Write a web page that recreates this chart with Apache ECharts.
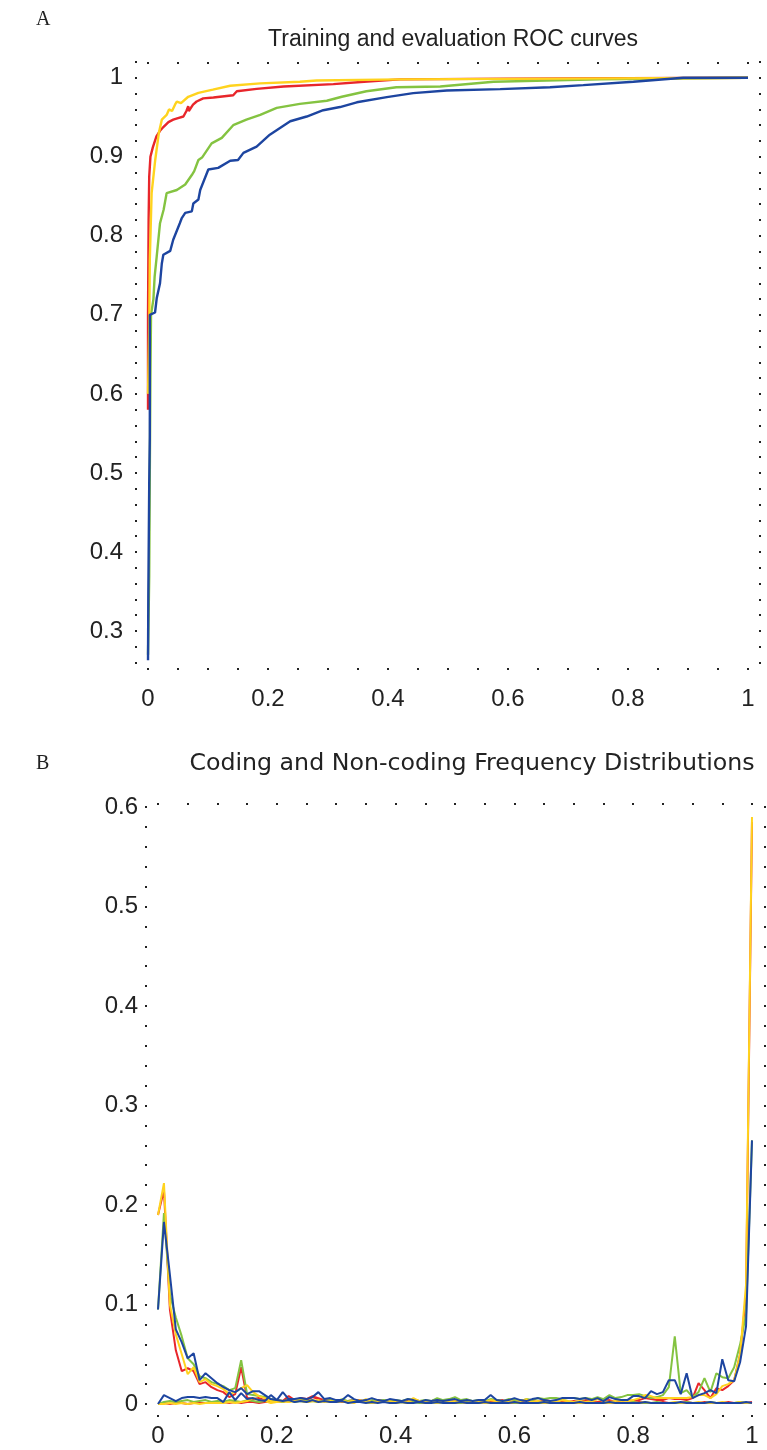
<!DOCTYPE html>
<html>
<head>
<meta charset="utf-8">
<title>ROC curves and frequency distributions</title>
<script src="https://cdn.jsdelivr.net/npm/echarts@6.0.0/dist/echarts.min.js"></script>
<style>
  html, body { margin: 0; padding: 0; background: #fff; }
  #chart { width: 767px; height: 1450px; }
</style>
</head>
<body>
<div id="chart"></div>
<script>
// panel A : ROC curves, [false positive rate, true positive rate]
const rocRed = [[0, 0.58], [0, 0.70], [0.001, 0.82], [0.002, 0.875], [0.004, 0.90], [0.008, 0.912], [0.014, 0.926],
  [0.02, 0.933], [0.026, 0.938], [0.034, 0.944], [0.042, 0.947], [0.05, 0.949], [0.059, 0.951], [0.064, 0.958],
  [0.067, 0.964], [0.068, 0.958], [0.075, 0.966], [0.081, 0.97], [0.092, 0.974], [0.109, 0.975], [0.142, 0.978],
  [0.148, 0.983], [0.181, 0.986], [0.226, 0.989], [0.309, 0.992], [0.36, 0.995], [0.42, 0.998], [0.6, 0.999],
  [0.8, 0.9995], [1, 1]]
const rocYellow = [[0, 0.60], [0.002, 0.68], [0.003, 0.77], [0.006, 0.854], [0.012, 0.896], [0.018, 0.93],
  [0.023, 0.947], [0.031, 0.953], [0.035, 0.96], [0.04, 0.958], [0.045, 0.966], [0.048, 0.97], [0.055, 0.968],
  [0.067, 0.976], [0.084, 0.981], [0.108, 0.985], [0.137, 0.99], [0.187, 0.993], [0.253, 0.995], [0.281, 0.9966],
  [0.42, 0.998], [0.7, 0.999], [1, 1]]
const rocGreen = [[0, 0.27], [0.002, 0.37], [0.003, 0.50], [0.004, 0.62], [0.005, 0.70], [0.009, 0.72],
  [0.011, 0.748], [0.0145, 0.774], [0.02, 0.816], [0.026, 0.833], [0.031, 0.854], [0.034, 0.856], [0.048, 0.858],
  [0.062, 0.865], [0.073, 0.877], [0.077, 0.882], [0.084, 0.896], [0.09, 0.899], [0.106, 0.917], [0.123, 0.924],
  [0.142, 0.94], [0.164, 0.947], [0.187, 0.953], [0.2145, 0.962], [0.253, 0.967], [0.298, 0.971], [0.323, 0.976],
  [0.364, 0.983], [0.414, 0.988], [0.487, 0.989], [0.576, 0.995], [0.753, 0.998], [1, 1]]
const rocBlue = [[0, 0.263], [0.0005, 0.343], [0.002, 0.487], [0.003, 0.546], [0.003, 0.665], [0.003, 0.70],
  [0.0117, 0.703], [0.0145, 0.721], [0.02, 0.74], [0.023, 0.765], [0.0255, 0.776], [0.037, 0.781], [0.042, 0.795],
  [0.053, 0.816], [0.056, 0.822], [0.062, 0.829], [0.073, 0.831], [0.0755, 0.841], [0.084, 0.846], [0.087, 0.858],
  [0.1005, 0.884], [0.117, 0.886], [0.137, 0.895], [0.15, 0.896], [0.159, 0.905], [0.181, 0.913], [0.203, 0.928],
  [0.237, 0.945], [0.2645, 0.951], [0.292, 0.959], [0.32, 0.963], [0.348, 0.969], [0.398, 0.9755], [0.442, 0.9806],
  [0.498, 0.984], [0.587, 0.9857], [0.67, 0.988], [0.7255, 0.9907], [0.809, 0.995], [0.892, 1.0], [1, 1]]
const rocXLabels = [0, 0.2, 0.4, 0.6, 0.8, 1]
const rocYLabels = [0.3, 0.4, 0.5, 0.6, 0.7, 0.8, 0.9, 1]

// panel B : score histograms, one value per bin
const binX = [0, 0.01, 0.02, 0.03, 0.04, 0.05, 0.06, 0.07, 0.08, 0.09,
  0.1, 0.11, 0.12, 0.13, 0.14, 0.15, 0.16, 0.17, 0.18, 0.19,
  0.2, 0.21, 0.22, 0.23, 0.24, 0.25, 0.26, 0.27, 0.28, 0.29,
  0.3, 0.31, 0.32, 0.33, 0.34, 0.35, 0.36, 0.37, 0.38, 0.39,
  0.4, 0.41, 0.42, 0.43, 0.44, 0.45, 0.46, 0.47, 0.48, 0.49,
  0.5, 0.51, 0.52, 0.53, 0.54, 0.55, 0.56, 0.57, 0.58, 0.59,
  0.6, 0.61, 0.62, 0.63, 0.64, 0.65, 0.66, 0.67, 0.68, 0.69,
  0.7, 0.71, 0.72, 0.73, 0.74, 0.75, 0.76, 0.77, 0.78, 0.79,
  0.8, 0.81, 0.82, 0.83, 0.84, 0.85, 0.86, 0.87, 0.88, 0.89,
  0.9, 0.91, 0.92, 0.93, 0.94, 0.95, 0.96, 0.97, 0.98, 0.99, 1]
// non-coding (peak near 0)
const redNC = [0.190, 0.215, 0.095, 0.054, 0.033, 0.036, 0.033, 0.020, 0.022, 0.017,
  0.014, 0.012, 0.007, 0.010, 0.037, 0.006, 0.005, 0.006, 0.004, 0.003,
  0.004, 0.003, 0.008, 0.004, 0.006, 0.005, 0.008, 0.006, 0.004, 0.003,
  0.004, 0.002, 0.003, 0.004, 0.002, 0.003, 0.002, 0.004, 0.003, 0.002,
  0.003, 0.002, 0.004, 0.002, 0.003, 0.002, 0.002, 0.003, 0.002, 0.002,
  0.001, 0.002, 0.001, 0.002, 0.001, 0.002, 0.001, 0.001, 0.002, 0.001,
  0.001, 0.002, 0.001, 0.001, 0.002, 0.001, 0.001, 0.001, 0.002, 0.001,
  0.001, 0.001, 0.002, 0.001, 0.001, 0.001, 0.002, 0.001, 0.001, 0.001,
  0.001, 0.002, 0.001, 0.001, 0.001, 0.002, 0.001, 0.001, 0.001, 0.002,
  0.001, 0.001, 0.002, 0.001, 0.001, 0.001, 0.002, 0.001, 0.001, 0.001, 0.002]
const yellowNC = [0.190, 0.222, 0.100, 0.070, 0.050, 0.030, 0.037, 0.022, 0.025, 0.020,
  0.018, 0.015, 0.010, 0.012, 0.016, 0.019, 0.012, 0.008, 0.006, 0.003,
  0.002, 0.003, 0.002, 0.003, 0.004, 0.002, 0.003, 0.002, 0.003, 0.002,
  0.002, 0.003, 0.002, 0.001, 0.004, 0.002, 0.001, 0.002, 0.003, 0.002,
  0.001, 0.002, 0.001, 0.005, 0.002, 0.001, 0.002, 0.001, 0.002, 0.001,
  0.001, 0.002, 0.001, 0.001, 0.002, 0.001, 0.001, 0.002, 0.001, 0.001,
  0.002, 0.001, 0.001, 0.001, 0.002, 0.001, 0.001, 0.001, 0.001, 0.002,
  0.001, 0.001, 0.001, 0.002, 0.001, 0.001, 0.001, 0.001, 0.002, 0.001,
  0.001, 0.001, 0.002, 0.001, 0.001, 0.001, 0.001, 0.002, 0.001, 0.001,
  0.001, 0.002, 0.001, 0.001, 0.001, 0.002, 0.001, 0.001, 0.002, 0.001, 0.001]
const greenNC = [0.095, 0.192, 0.110, 0.087, 0.068, 0.046, 0.040, 0.028, 0.026, 0.022,
  0.020, 0.018, 0.014, 0.016, 0.044, 0.010, 0.009, 0.008, 0.007, 0.005,
  0.004, 0.003, 0.004, 0.002, 0.003, 0.002, 0.003, 0.002, 0.004, 0.002,
  0.002, 0.003, 0.002, 0.002, 0.003, 0.002, 0.001, 0.002, 0.003, 0.002,
  0.001, 0.002, 0.001, 0.002, 0.001, 0.001, 0.002, 0.001, 0.002, 0.001,
  0.001, 0.001, 0.002, 0.001, 0.001, 0.002, 0.001, 0.001, 0.001, 0.002,
  0.001, 0.001, 0.001, 0.002, 0.001, 0.001, 0.001, 0.002, 0.001, 0.001,
  0.001, 0.002, 0.001, 0.001, 0.001, 0.001, 0.002, 0.001, 0.001, 0.001,
  0.002, 0.001, 0.001, 0.001, 0.002, 0.001, 0.001, 0.001, 0.001, 0.002,
  0.001, 0.001, 0.001, 0.002, 0.001, 0.001, 0.001, 0.001, 0.002, 0.001, 0.001]
const blueNC = [0.095, 0.183, 0.130, 0.075, 0.062, 0.046, 0.051, 0.024, 0.031, 0.026,
  0.021, 0.017, 0.014, 0.012, 0.016, 0.010, 0.013, 0.013, 0.009, 0.005,
  0.004, 0.003, 0.004, 0.002, 0.003, 0.002, 0.004, 0.002, 0.003, 0.002,
  0.002, 0.003, 0.001, 0.002, 0.002, 0.001, 0.002, 0.001, 0.002, 0.001,
  0.001, 0.002, 0.001, 0.001, 0.002, 0.001, 0.001, 0.002, 0.001, 0.001,
  0.001, 0.002, 0.001, 0.001, 0.001, 0.002, 0.001, 0.001, 0.001, 0.001,
  0.002, 0.001, 0.001, 0.001, 0.001, 0.002, 0.001, 0.001, 0.001, 0.001,
  0.001, 0.002, 0.001, 0.001, 0.001, 0.001, 0.002, 0.001, 0.001, 0.001,
  0.001, 0.001, 0.002, 0.001, 0.001, 0.001, 0.001, 0.001, 0.002, 0.001,
  0.001, 0.001, 0.001, 0.002, 0.001, 0.001, 0.001, 0.001, 0.001, 0.002, 0.001]
// coding (peak near 1)
const redC = [0.000, 0.001, 0.000, 0.001, 0.001, 0.000, 0.001, 0.001, 0.001, 0.001,
  0.001, 0.002, 0.001, 0.002, 0.001, 0.002, 0.002, 0.001, 0.002, 0.002,
  0.003, 0.002, 0.004, 0.003, 0.006, 0.004, 0.007, 0.005, 0.003, 0.004,
  0.003, 0.004, 0.002, 0.003, 0.004, 0.002, 0.003, 0.002, 0.003, 0.004,
  0.002, 0.003, 0.002, 0.004, 0.003, 0.002, 0.003, 0.005, 0.003, 0.002,
  0.003, 0.002, 0.003, 0.002, 0.004, 0.003, 0.002, 0.003, 0.004, 0.002,
  0.003, 0.002, 0.001, 0.003, 0.002, 0.004, 0.003, 0.002, 0.003, 0.002,
  0.003, 0.002, 0.004, 0.003, 0.002, 0.003, 0.004, 0.002, 0.003, 0.004,
  0.003, 0.004, 0.006, 0.005, 0.004, 0.004, 0.006, 0.005, 0.005, 0.004,
  0.006, 0.021, 0.014, 0.006, 0.016, 0.014, 0.018, 0.024, 0.050, 0.110, 0.585]
const yellowC = [0.000, 0.000, 0.001, 0.000, 0.001, 0.000, 0.001, 0.000, 0.001, 0.001,
  0.001, 0.001, 0.002, 0.001, 0.002, 0.003, 0.006, 0.004, 0.003, 0.001,
  0.002, 0.003, 0.002, 0.004, 0.003, 0.002, 0.003, 0.004, 0.002, 0.003,
  0.002, 0.003, 0.002, 0.004, 0.002, 0.005, 0.002, 0.003, 0.002, 0.003,
  0.002, 0.003, 0.002, 0.006, 0.003, 0.002, 0.003, 0.002, 0.003, 0.002,
  0.003, 0.002, 0.004, 0.002, 0.003, 0.002, 0.004, 0.003, 0.002, 0.003,
  0.002, 0.003, 0.005, 0.002, 0.003, 0.002, 0.003, 0.002, 0.004, 0.003,
  0.002, 0.003, 0.002, 0.003, 0.005, 0.003, 0.002, 0.003, 0.004, 0.003,
  0.004, 0.006, 0.009, 0.008, 0.006, 0.006, 0.006, 0.006, 0.006, 0.006,
  0.007, 0.009, 0.009, 0.006, 0.010, 0.018, 0.020, 0.024, 0.050, 0.120, 0.590]
const greenC = [0.000, 0.002, 0.003, 0.002, 0.003, 0.004, 0.002, 0.003, 0.004, 0.002,
  0.003, 0.002, 0.004, 0.003, 0.002, 0.004, 0.003, 0.002, 0.003, 0.004,
  0.003, 0.002, 0.004, 0.003, 0.005, 0.003, 0.004, 0.002, 0.003, 0.004,
  0.003, 0.005, 0.003, 0.004, 0.003, 0.002, 0.004, 0.003, 0.004, 0.003,
  0.004, 0.003, 0.005, 0.004, 0.003, 0.004, 0.003, 0.006, 0.004, 0.005,
  0.007, 0.004, 0.005, 0.003, 0.004, 0.003, 0.005, 0.004, 0.003, 0.005,
  0.004, 0.003, 0.005, 0.004, 0.006, 0.005, 0.006, 0.006, 0.005, 0.006,
  0.006, 0.005, 0.006, 0.005, 0.007, 0.005, 0.009, 0.006, 0.007, 0.009,
  0.009, 0.010, 0.008, 0.006, 0.007, 0.009, 0.017, 0.068, 0.011, 0.014,
  0.007, 0.012, 0.026, 0.012, 0.031, 0.027, 0.026, 0.037, 0.060, 0.090, 0.265]
const blueC = [0.000, 0.009, 0.006, 0.003, 0.006, 0.007, 0.007, 0.006, 0.007, 0.006,
  0.006, 0.002, 0.012, 0.004, 0.011, 0.005, 0.006, 0.004, 0.003, 0.009,
  0.004, 0.012, 0.005, 0.005, 0.006, 0.005, 0.007, 0.012, 0.005, 0.006,
  0.004, 0.004, 0.009, 0.005, 0.003, 0.004, 0.006, 0.004, 0.003, 0.005,
  0.004, 0.003, 0.005, 0.004, 0.002, 0.004, 0.003, 0.004, 0.003, 0.004,
  0.005, 0.003, 0.004, 0.003, 0.004, 0.004, 0.009, 0.004, 0.003, 0.004,
  0.006, 0.004, 0.003, 0.005, 0.006, 0.004, 0.003, 0.004, 0.006, 0.006,
  0.006, 0.005, 0.006, 0.004, 0.006, 0.003, 0.007, 0.005, 0.004, 0.004,
  0.008, 0.008, 0.006, 0.013, 0.010, 0.012, 0.024, 0.024, 0.010, 0.031,
  0.006, 0.009, 0.011, 0.014, 0.011, 0.045, 0.024, 0.023, 0.042, 0.078, 0.265]
const freqXLabels = [0, 0.2, 0.4, 0.6, 0.8, 1]
const freqYLabels = [0, 0.1, 0.2, 0.3, 0.4, 0.5, 0.6]

const RED = '#e8262b'
const YELLOW = '#ffd31e'
const GREEN = '#84c341'
const BLUE = '#1d45a0'

// positions of the little frame dots
function dots (from, to, step) {
  let out = []
  for (let v = from; v <= to + 1e-9; v += step) out.push(Math.round(v * 1000) / 1000)
  return out
}

function frameAxis (grid, pos, min, max, dotValues, labels, margin) {
  return {
    type: 'value',
    gridIndex: grid,
    position: pos,
    min: min,
    max: max,
    splitLine: { show: false },
    axisLine: { show: false, onZero: false },
    axisTick: {
      show: true,
      inside: true,
      length: 2,
      customValues: dotValues,
      lineStyle: { color: '#222', width: 2 }
    },
    axisLabel: {
      show: !!labels,
      customValues: labels || [],
      margin: margin,
      color: '#222',
      fontFamily: 'Liberation Sans',
      fontSize: 24,
      formatter: function (v) { return String(+(+v).toFixed(2)) }
    }
  }
}

function pairs (ys) {
  return binX.map(function (x, i) { return [x, ys[i]] })
}

function line (name, data, color, grid, width) {
  return {
    name: name,
    type: 'line',
    xAxisIndex: grid * 2,
    yAxisIndex: grid * 2,
    data: data,
    symbol: 'none',
    smooth: false,
    lineStyle: { color: color, width: width },
    itemStyle: { color: color }
  }
}

let rocXDots = dots(0, 1, 0.05)
let rocYDots = dots(0.26, 1.02, 0.02)
let freqXDots = dots(0, 1, 0.05)
let freqYDots = dots(0, 0.6, 0.02)

let option = {
  animation: false,
  backgroundColor: '#fff',
  grid: [
    { left: 135, right: 6, top: 62, bottom: 780 },
    { left: 145, right: 1, top: 803, bottom: 33 }
  ],
  xAxis: [
    frameAxis(0, 'bottom', -0.0217, 1.0217, rocXDots, rocXLabels, 17),
    frameAxis(0, 'top', -0.0217, 1.0217, rocXDots, null, 8),
    frameAxis(1, 'bottom', -0.0219, 1.0236, freqXDots, freqXLabels, 7),
    frameAxis(1, 'top', -0.0219, 1.0236, freqXDots, null, 8)
  ],
  yAxis: [
    frameAxis(0, 'left', 0.2506, 1.02, rocYDots, rocYLabels, 12),
    frameAxis(0, 'right', 0.2506, 1.02, rocYDots, null, 8),
    frameAxis(1, 'left', -0.013, 0.604, freqYDots, freqYLabels, 7),
    frameAxis(1, 'right', -0.013, 0.604, freqYDots, null, 8)
  ],
  graphic: [
    { type: 'text', x: 36, y: 20, style: { text: 'A', font: '20px "Liberation Serif"', fill: '#222', verticalAlign: 'middle' } },
    { type: 'text', x: 453, y: 40, style: { text: 'Training and evaluation ROC curves', font: '23px "Liberation Sans"', fill: '#222', align: 'center', verticalAlign: 'middle' } },
    { type: 'text', x: 36, y: 764, style: { text: 'B', font: '20px "Liberation Serif"', fill: '#222', verticalAlign: 'middle' } },
    { type: 'text', x: 472, y: 764, style: { text: 'Coding and Non-coding Frequency Distributions', font: '23.7px "DejaVu Sans"', fill: '#222', align: 'center', verticalAlign: 'middle' } }
  ],
  series: [
    line('red', rocRed, RED, 0, 2.4),
    line('green', rocGreen, GREEN, 0, 2.4),
    line('yellow', rocYellow, YELLOW, 0, 2.4),
    line('blue', rocBlue, BLUE, 0, 2.4),

    line('red coding', pairs(redC), RED, 1, 2),
    line('red non-coding', pairs(redNC), RED, 1, 2),
    line('green coding', pairs(greenC), GREEN, 1, 2),
    line('green non-coding', pairs(greenNC), GREEN, 1, 2),
    line('yellow coding', pairs(yellowC), YELLOW, 1, 2),
    line('yellow non-coding', pairs(yellowNC), YELLOW, 1, 2),
    line('blue coding', pairs(blueC), BLUE, 1, 2),
    line('blue non-coding', pairs(blueNC), BLUE, 1, 2)
  ]
}

let chart = echarts.init(document.getElementById('chart'))
chart.setOption(option)
</script>
</body>
</html>
